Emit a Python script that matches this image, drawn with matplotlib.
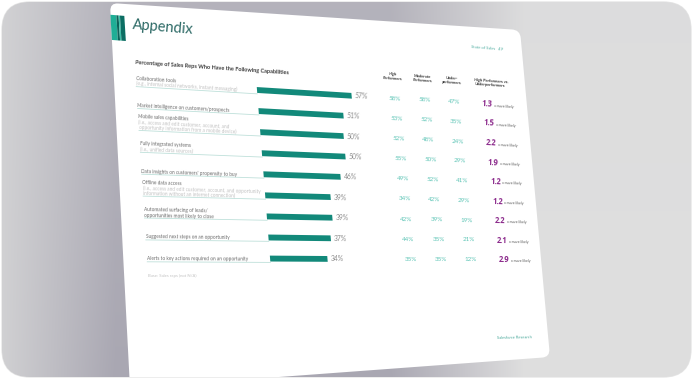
import numpy as np
import matplotlib.pyplot as plt
import matplotlib.transforms as mtransforms
from matplotlib.patches import FancyBboxPatch, PathPatch, Rectangle
from matplotlib.path import Path
from matplotlib.colors import to_rgb

plt.rcParams['font.family'] = ['Lato', 'DejaVu Sans']

# ---- data ----
capabilities = [
    "Collaboration tools",
    "Market intelligence on customers/prospects",
    "Mobile sales capabilities",
    "Fully integrated systems",
    "Data insights on customers' propensity to buy",
    "Offline data access",
    "Automated surfacing of leads/\nopportunities most likely to close",
    "Suggested next steps on an opportunity",
    "Alerts to key actions required on an opportunity",
]
notes = [
    "(e.g., internal social networks, instant messaging)",
    "",
    "(i.e., access and edit customer, account, and\nopportunity information from a mobile device)",
    "(i.e., unified data sources)",
    "",
    "(i.e., access and edit customer, account, and opportunity\ninformation without an internet connection)",
    "",
    "",
    "",
]
all_reps = [57, 51, 50, 50, 46, 39, 39, 37, 34]
high = [58, 53, 52, 55, 49, 34, 42, 44, 35]
moderate = [58, 52, 48, 50, 52, 42, 39, 35, 35]
under = [47, 35, 24, 29, 41, 29, 19, 21, 12]
ratio = [1.3, 1.5, 2.2, 1.9, 1.2, 1.2, 2.2, 2.1, 2.9]
headers = ["High\nPerformers", "Moderate\nPerformers", "Under-\nperformers",
           "High Performers vs.\nUnderperformers"]

W, H = 694, 380
TEAL = '#12897a'
LIGHT_TEAL = '#5cc4b5'
PURPLE = '#8c2b8c'


class QuadMap(mtransforms.Transform):
    """bilinear map of a flat slide (u, v) onto the tilted slide in pixels"""
    input_dims = 2
    output_dims = 2
    is_separable = False
    has_inverse = False

    def __init__(self, corners, w, h):
        super().__init__()
        self.corners = np.asarray(corners, float)
        self.w = w
        self.h = h

    def transform_non_affine(self, values):
        values = np.asarray(values, float)
        pts = values.reshape(-1, 2)
        s = (pts[:, 0] / self.w)[:, None]
        t = (pts[:, 1] / self.h)[:, None]
        tl, tr, br, bl = self.corners
        out = (1 - s) * (1 - t) * tl + s * (1 - t) * tr + s * t * br + (1 - s) * t * bl
        return out.reshape(values.shape)


def rounded_path(pts, r):
    pts = np.asarray(pts, float)
    verts, codes = [], []
    n = len(pts)
    for i in range(n):
        p0, p1, p2 = pts[i - 1], pts[i], pts[(i + 1) % n]
        a = p1 + (p0 - p1) / np.linalg.norm(p0 - p1) * r
        b = p1 + (p2 - p1) / np.linalg.norm(p2 - p1) * r
        verts.append(a)
        codes.append(Path.MOVETO if i == 0 else Path.LINETO)
        verts += [p1, b]
        codes += [Path.CURVE3, Path.CURVE3]
    verts.append(verts[0])
    codes.append(Path.CLOSEPOLY)
    return Path(verts, codes)


fig = plt.figure(figsize=(W / 100, H / 100), dpi=100)
fig.patch.set_facecolor('white')
ax = fig.add_axes([0, 0, 1, 1])
ax.set_autoscale_on(False)
ax.set_xlim(0, W)
ax.set_ylim(H, 0)
ax.axis('off')

# ---- background card with shaded gradient ----
card = FancyBboxPatch((2, 2), W - 5, H - 5, boxstyle='round,pad=0,rounding_size=28',
                      facecolor='#dfdfdf', edgecolor='#e6e6e6', lw=1, zorder=0)
ax.add_patch(card)
xs = np.arange(W)
stops = [0, 115, 390, 525, W]
cols = np.array([to_rgb(c) for c in ['#d1d1d3', '#a9a7b2', '#a9a7b2', '#dfdfdf', '#dfdfdf']])
row = np.stack([np.interp(xs, stops, cols[:, k]) for k in range(3)], axis=1)
ys = np.linspace(0, 1, H)[:, None, None]
light = np.array(to_rgb('#d6d6d8'))
img = row[None, :, :] * (0.75 + 0.25 * ys) + light * (0.25 - 0.25 * ys)
im = ax.imshow(img, extent=(0, W, H, 0), zorder=1, interpolation='bilinear')
im.set_clip_path(card)

# ---- the tilted slide ----
slide = PathPatch(rounded_path([(110, 3), (520, 30), (550, 357), (130, 388)], 8),
                  facecolor='white', edgecolor='none', zorder=2)
ax.add_patch(slide)
slide.set_clip_path(card)

# content map: u across 0..350 (labels -> ratio column), v down 0..175 (row 1 -> row 9)
cmap = QuadMap([(136, 82.6), (486, 104), (503, 260), (147, 257.8)], 350, 175)
ctrans = cmap + ax.transData
row_step = 175 / 8
bar_left = 121
bar_scale = 1.66
bar_aff = mtransforms.Affine2D().scale(bar_scale, row_step).translate(bar_left, 0)
btrans = bar_aff + ctrans


def angle_at(u, v):
    p0, p1 = cmap.transform(np.array([[u, v], [u + 1, v]]))
    return np.degrees(np.arctan2(-(p1[1] - p0[1]), p1[0] - p0[0]))


def stext(u, v, s, **kw):
    kw.setdefault('va', 'center')
    return ax.text(u, v, s, transform=ctrans, rotation=angle_at(u, v),
                   rotation_mode='anchor', zorder=5, clip_on=False, **kw)


# header
for u0, u1, c in [(-21.6, -15.6, '#1fae96'), (-15.6, -13.4, '#0b6359'),
                  (-13.4, -12.0, '#3fbfa9'), (-12.0, -7.6, '#0c6e63')]:
    ax.add_patch(Rectangle((u0, -66), u1 - u0, 25, transform=ctrans,
                           facecolor=c, edgecolor='none', zorder=4))
stext(0, -57.5, 'Appendix', fontsize=10.5, color='#2d6a66')
stext(373, -63, 'State of Sales   49', fontsize=3, color='#55b0a4', ha='right')
stext(0, -20, 'Percentage of Sales Reps Who Have the Following Capabilities',
      fontsize=4, fontweight='bold', color='#3a3a3a')

col_u = [259, 288.6, 318, 357]
for u, h in zip(col_u, headers):
    stext(u, -24, h, fontsize=2.8, fontweight='bold', color='#333333',
          ha='center', multialignment='center', linespacing=1.15)

# bars
rows = np.arange(len(all_reps))
ax.barh(rows, all_reps, height=0.28, left=0, color=TEAL, transform=btrans, zorder=4)

for i in rows:
    v = i * row_step
    # underline from label to bar
    ax.plot([0, bar_left], [v + 4, v + 4], transform=ctrans, color='#bfe0da', lw=0.6, zorder=3)
    # labels stacked upwards from the underline
    lines = [(ln, '#6a6a6a') for ln in capabilities[i].split('\n')]
    if notes[i]:
        lines += [(ln, '#c2c2c2') for ln in notes[i].split('\n')]
    for k, (ln, c) in enumerate(lines):
        vv = v + 1 - 5.3 * (len(lines) - 1 - k)
        stext(0, vv, ln, fontsize=3.4, color=c)
    # value at bar end
    ue, ve = bar_aff.transform((all_reps[i], i))
    stext(ue + 3, ve, f'{all_reps[i]}%', fontsize=4.9, color='#8c8c8c')
    # table
    for u, val in zip(col_u[:3], (high[i], moderate[i], under[i])):
        stext(u, v, f'{val}%', fontsize=4.5, color=LIGHT_TEAL, ha='center')
    stext(356, v + 2.5, f'{ratio[i]:.1f}', fontsize=5.5, fontweight='bold', color=PURPLE,
          ha='right', va='baseline', family=['Open Sans', 'DejaVu Sans'])
    stext(357.5, v + 2.5, 'x more likely', fontsize=2.5, color='#555555', va='baseline')

stext(0, 193, 'Base: Sales reps (not N/A)', fontsize=3.1, color='#c2c2c2')
stext(370, 262.5, 'Salesforce Research', fontsize=2.9, color='#4aa99b', ha='right')

fig.savefig('out.png', dpi=100, facecolor=fig.get_facecolor())
plt.close(fig)
